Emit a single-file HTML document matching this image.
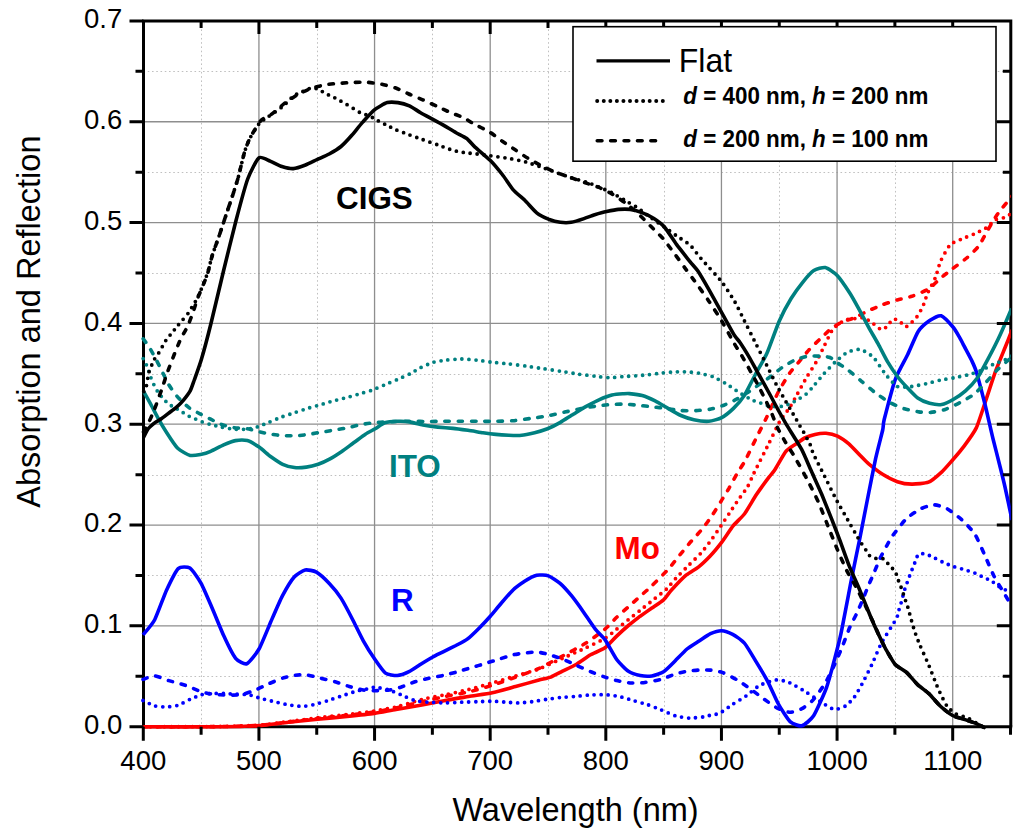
<!DOCTYPE html>
<html><head><meta charset="utf-8"><style>
html,body{margin:0;padding:0;background:#fff;width:1024px;height:837px;overflow:hidden}
svg{display:block}
text{font-family:"Liberation Sans",sans-serif}
.gm{stroke:#c0c0c0;stroke-width:1;stroke-dasharray:1.6 2.65}
.gM{stroke:#8e8e8e;stroke-width:1.3}
.tk{stroke:#000;stroke-width:3;fill:none}
.ax{stroke:#000;stroke-width:3;fill:none}
.tl{font-size:27.5px;fill:#000}
.at{font-size:32.5px;fill:#000}
.lab{font-size:31.4px;font-weight:bold}
.lf{font-size:32px;fill:#000}
.lg{font-size:22.4px;font-weight:bold;fill:#000}
</style></head><body>
<svg width="1024" height="837" viewBox="0 0 1024 837">
<defs><clipPath id="clip"><rect x="139.5" y="20.9" width="871.3" height="709.8000000000001"/></clipPath></defs>
<g>
<line x1="201.5" y1="20.9" x2="201.5" y2="726.7" class="gm"/>
<line x1="317.5" y1="20.9" x2="317.5" y2="726.7" class="gm"/>
<line x1="432.5" y1="20.9" x2="432.5" y2="726.7" class="gm"/>
<line x1="548.5" y1="20.9" x2="548.5" y2="726.7" class="gm"/>
<line x1="664.5" y1="20.9" x2="664.5" y2="726.7" class="gm"/>
<line x1="779.5" y1="20.9" x2="779.5" y2="726.7" class="gm"/>
<line x1="895.5" y1="20.9" x2="895.5" y2="726.7" class="gm"/>
<line x1="143.5" y1="676.5" x2="1010.8" y2="676.5" class="gm"/>
<line x1="143.5" y1="575.5" x2="1010.8" y2="575.5" class="gm"/>
<line x1="143.5" y1="475.5" x2="1010.8" y2="475.5" class="gm"/>
<line x1="143.5" y1="374.5" x2="1010.8" y2="374.5" class="gm"/>
<line x1="143.5" y1="273.5" x2="1010.8" y2="273.5" class="gm"/>
<line x1="143.5" y1="172.5" x2="1010.8" y2="172.5" class="gm"/>
<line x1="143.5" y1="71.5" x2="1010.8" y2="71.5" class="gm"/>
</g><g>
<line x1="258.93" y1="20.9" x2="258.93" y2="726.7" class="gM"/>
<line x1="374.56" y1="20.9" x2="374.56" y2="726.7" class="gM"/>
<line x1="490.19" y1="20.9" x2="490.19" y2="726.7" class="gM"/>
<line x1="605.82" y1="20.9" x2="605.82" y2="726.7" class="gM"/>
<line x1="721.44" y1="20.9" x2="721.44" y2="726.7" class="gM"/>
<line x1="837.07" y1="20.9" x2="837.07" y2="726.7" class="gM"/>
<line x1="952.70" y1="20.9" x2="952.70" y2="726.7" class="gM"/>
<line x1="143.5" y1="625.87" x2="1010.8" y2="625.87" class="gM"/>
<line x1="143.5" y1="525.04" x2="1010.8" y2="525.04" class="gM"/>
<line x1="143.5" y1="424.21" x2="1010.8" y2="424.21" class="gM"/>
<line x1="143.5" y1="323.38" x2="1010.8" y2="323.38" class="gM"/>
<line x1="143.5" y1="222.56" x2="1010.8" y2="222.56" class="gM"/>
<line x1="143.5" y1="121.73" x2="1010.8" y2="121.73" class="gM"/>
</g>
<text x="336" y="208.5" class="lab" fill="#000">CIGS</text>
<text x="389" y="477.3" class="lab" fill="#008080">ITO</text>
<text x="614.5" y="558.8" class="lab" fill="#ff0000">Mo</text>
<text x="391" y="610.5" class="lab" fill="#0000ff">R</text>
<path d="M143.5,726.7V20.9H1010.8V726.7" class="ax"/>
<line x1="142.1" y1="726.7" x2="1012.1999999999999" y2="726.7" class="ax"/>
<g clip-path="url(#clip)" fill="none" stroke-linejoin="round">
<path d="M143.5,726.8C151.2,726.8 208.4,726.7 220.0,726.6C231.6,726.5 252.2,725.9 259.0,725.4C265.8,724.9 282.5,722.7 288.4,722.0C294.3,721.3 311.8,719.2 317.7,718.5C323.6,717.8 341.3,715.9 347.0,715.3C352.7,714.6 369.2,712.8 374.3,712.0C379.4,711.2 393.6,708.4 398.4,707.4C403.2,706.4 417.2,702.8 421.9,701.7C426.6,700.6 440.6,697.5 445.3,696.5C450.0,695.5 464.0,693.0 468.7,691.9C473.4,690.8 487.5,686.8 492.2,685.3C496.9,683.8 510.9,678.8 515.6,677.1C520.3,675.4 534.3,670.5 539.0,668.4C543.7,666.3 557.8,658.5 562.5,656.0C567.2,653.5 581.6,645.8 585.9,643.1C590.1,640.4 601.9,631.7 605.0,629.1C608.1,626.5 614.4,619.5 616.7,617.3C619.0,615.1 626.0,608.9 628.4,606.8C630.8,604.7 637.9,598.3 640.2,596.2C642.6,594.1 649.1,588.4 651.9,585.7C654.7,583.0 665.8,572.0 668.6,568.9C671.4,565.8 677.8,557.4 680.1,554.6C682.4,551.8 689.2,543.6 691.5,541.0C693.8,538.4 700.9,530.7 703.0,528.1C705.1,525.5 710.5,517.9 712.3,515.2C714.1,512.5 719.2,504.2 720.9,501.5C722.5,498.8 727.1,491.5 728.8,488.6C730.4,485.7 735.8,475.7 737.4,472.9C739.0,470.1 743.2,464.3 745.0,461.0C746.8,457.7 753.1,444.3 755.3,439.9C757.5,435.5 764.5,421.8 766.8,417.0C769.1,412.2 775.9,396.6 778.2,392.2C780.5,387.8 787.6,376.2 789.7,373.1C791.8,370.0 797.3,363.9 799.2,361.6C801.1,359.3 806.7,352.4 808.8,350.1C810.9,347.8 818.0,340.9 820.3,338.7C822.6,336.5 829.4,329.9 831.7,328.2C834.0,326.5 840.9,322.5 843.2,321.5C845.5,320.5 851.8,318.9 854.3,317.8C856.8,316.7 865.8,311.9 868.7,310.6C871.6,309.3 880.1,305.7 883.0,304.6C885.9,303.5 894.5,300.7 897.4,299.9C900.3,299.1 908.6,297.4 911.7,296.3C914.8,295.2 925.6,290.9 928.5,289.1C931.4,287.3 938.0,280.3 940.4,278.3C942.8,276.3 949.8,270.8 952.4,268.8C955.0,266.8 964.1,260.3 966.7,258.0C969.3,255.7 976.6,249.0 978.7,246.1C980.9,243.2 986.3,232.5 988.2,229.3C990.1,226.1 995.4,217.1 997.8,213.8C1000.2,210.5 1010.6,197.8 1012.0,196.0" stroke="#ff0000" stroke-width="3.6" stroke-dasharray="4.4 8.9" stroke-linecap="round"/>
<path d="M143.5,726.8C151.2,726.8 208.4,726.7 220.0,726.5C231.6,726.3 252.2,725.7 259.0,725.2C265.8,724.7 282.5,722.3 288.4,721.6C294.3,720.9 311.8,718.5 317.7,717.8C323.6,717.1 341.3,715.2 347.0,714.5C352.7,713.8 369.2,711.8 374.3,711.0C379.4,710.2 393.6,707.6 398.4,706.4C403.2,705.2 417.2,700.6 421.9,699.4C426.6,698.2 440.6,695.7 445.3,694.7C450.0,693.7 464.0,690.7 468.7,689.5C473.4,688.3 487.5,684.4 492.2,683.0C496.9,681.6 510.9,677.3 515.6,675.9C520.3,674.5 534.3,670.7 539.0,668.9C543.7,667.1 557.8,660.4 562.5,658.3C567.2,656.2 581.6,649.8 585.9,647.8C590.1,645.8 601.9,640.3 605.0,638.4C608.1,636.5 614.4,631.0 616.7,629.1C619.0,627.2 626.0,621.6 628.4,619.7C630.8,617.8 637.9,612.2 640.2,610.3C642.6,608.4 649.3,603.0 651.9,600.9C654.5,598.8 664.0,591.4 666.5,589.0C669.0,586.6 674.9,579.2 677.2,576.8C679.5,574.4 687.0,567.0 689.4,564.6C691.8,562.2 699.4,554.9 701.6,552.4C703.8,549.9 709.7,542.1 711.6,539.5C713.5,536.9 719.1,528.5 720.9,525.9C722.7,523.2 727.8,515.6 729.5,513.0C731.2,510.4 736.3,502.7 738.1,500.1C739.9,497.5 745.9,489.6 747.5,486.9C749.1,484.2 751.8,477.5 753.9,473.2C756.0,468.9 766.1,449.0 768.7,443.8C771.3,438.6 778.0,424.4 780.1,420.8C782.2,417.2 788.0,410.2 789.7,407.5C791.4,404.8 795.6,397.2 797.3,394.1C799.0,391.0 805.0,380.1 806.9,376.9C808.8,373.6 814.7,364.7 816.4,361.6C818.1,358.5 822.6,349.4 824.1,346.3C825.6,343.2 830.2,333.3 831.7,331.0C833.2,328.7 837.9,324.5 839.4,323.4C840.9,322.3 845.7,320.0 847.0,319.6C848.3,319.2 850.3,319.2 852.0,319.0C853.7,318.8 861.8,317.3 863.9,317.8C866.0,318.3 871.7,322.6 873.5,323.8C875.3,325.0 880.2,329.6 881.6,329.8C883.0,330.0 886.4,326.9 887.5,325.8C888.6,324.7 891.8,319.7 892.9,319.2C894.0,318.7 897.7,319.8 899.0,320.6C900.3,321.4 904.3,326.7 905.6,326.8C906.9,326.9 910.9,323.1 912.1,322.0C913.4,320.9 917.2,316.6 918.1,315.3C919.0,314.0 920.8,310.3 921.4,309.0C922.0,307.7 924.0,303.7 924.6,302.2C925.2,300.7 926.2,296.4 927.3,293.9C928.4,291.4 934.3,280.3 935.6,277.1C936.9,273.9 939.0,264.8 940.4,261.6C941.8,258.4 947.9,247.2 950.0,244.9C952.1,242.6 959.5,240.0 961.9,238.9C964.3,237.8 971.5,235.2 973.9,234.1C976.3,233.0 983.6,229.5 985.8,228.1C987.9,226.7 993.5,220.9 995.4,219.8C997.3,218.7 1003.3,218.1 1005.0,217.4C1006.7,216.7 1011.3,213.4 1012.0,213.0" stroke="#ff0000" stroke-width="3.8" stroke-dasharray="0 7" stroke-linecap="round"/>
<path d="M143.5,726.8C151.2,726.8 208.4,726.9 220.0,726.8C231.6,726.7 252.2,726.1 259.0,725.6C265.8,725.1 282.5,722.9 288.4,722.3C294.3,721.7 311.8,719.8 317.7,719.2C323.6,718.6 341.3,717.1 347.0,716.5C352.7,715.9 369.4,714.1 374.3,713.4C379.2,712.7 391.2,710.3 396.0,709.5C400.8,708.7 417.0,705.9 421.9,705.0C426.8,704.1 440.6,701.4 445.3,700.5C450.0,699.6 464.0,697.3 468.7,696.5C473.4,695.7 487.5,693.8 492.2,692.8C496.9,691.8 510.9,687.8 515.6,686.5C520.3,685.2 535.5,681.0 539.0,680.1C542.5,679.2 548.4,678.0 550.8,677.1C553.1,676.2 559.9,672.5 562.5,671.2C565.1,669.9 573.7,665.8 576.5,664.2C579.3,662.6 587.8,656.4 590.6,654.8C593.5,653.2 602.4,649.7 605.0,647.8C607.6,645.9 614.4,638.3 616.7,636.1C619.0,633.9 626.0,627.5 628.4,625.5C630.8,623.5 637.9,618.0 640.2,616.2C642.6,614.5 649.6,609.6 651.9,608.0C654.2,606.4 661.6,601.6 663.6,599.8C665.6,598.0 669.3,592.4 671.5,590.0C673.7,587.6 683.1,577.7 685.8,575.4C688.5,573.1 696.3,568.7 698.7,566.8C701.1,564.9 707.9,558.4 710.2,556.0C712.5,553.6 719.3,545.4 721.6,542.4C723.9,539.4 730.8,528.8 733.1,525.9C735.4,523.0 742.3,516.8 744.6,513.7C746.9,510.6 753.7,498.8 756.1,495.1C758.5,491.5 767.1,479.7 769.0,477.2C770.9,474.7 773.0,472.6 774.7,470.0C776.4,467.4 783.8,454.0 785.9,451.4C788.0,448.8 794.0,445.3 795.9,444.0C797.8,442.7 802.9,438.9 804.8,438.0C806.7,437.1 812.9,435.0 815.0,434.5C817.1,434.0 823.8,433.1 826.0,433.3C828.2,433.5 835.2,435.1 837.5,436.1C839.8,437.2 846.6,441.9 848.9,443.8C851.1,445.7 858.0,453.2 860.0,455.2C862.0,457.2 866.4,461.9 868.7,463.8C871.0,465.7 880.1,472.7 883.0,474.5C885.9,476.3 894.5,480.7 897.4,481.7C900.3,482.7 908.6,484.1 911.7,484.1C914.8,484.2 925.5,483.4 928.5,482.2C931.5,481.0 939.2,474.3 941.6,472.1C944.0,469.9 950.1,462.8 952.4,460.2C954.7,457.6 961.9,449.0 964.3,445.8C966.7,442.6 974.1,432.4 976.3,427.9C978.4,423.4 983.9,406.0 985.8,400.4C987.7,394.8 993.5,377.0 995.4,371.7C997.3,366.4 1003.3,352.0 1005.0,347.8C1006.7,343.6 1011.3,331.8 1012.0,330.0" stroke="#ff0000" stroke-width="3.6"/>
<path d="M143.0,679.4C144.2,679.0 152.1,675.8 154.7,675.9C157.3,676.0 165.8,679.7 168.8,680.6C171.9,681.5 181.9,684.2 185.2,685.3C188.5,686.4 198.8,691.0 201.6,691.9C204.4,692.8 210.7,693.9 213.3,694.2C215.9,694.5 224.6,695.1 227.4,695.1C230.2,695.1 238.6,695.2 241.4,694.7C244.2,694.2 252.7,691.1 255.5,690.0C258.3,688.9 266.8,684.6 269.6,683.4C272.4,682.2 281.0,678.6 283.6,677.8C286.2,677.0 293.0,675.5 295.3,675.2C297.6,674.9 304.4,674.7 307.0,675.0C309.6,675.3 318.3,677.6 321.1,678.3C323.9,679.0 332.4,681.0 335.2,681.8C338.0,682.6 346.4,685.7 349.2,686.5C352.0,687.3 360.7,689.6 363.3,690.0C365.9,690.4 372.4,690.7 375.0,690.7C377.6,690.7 386.5,690.4 389.1,690.0C391.7,689.6 398.2,688.0 400.8,687.2C403.4,686.4 412.0,682.7 414.8,681.8C417.6,680.9 426.1,678.9 428.9,678.3C431.7,677.7 440.2,676.1 443.0,675.5C445.8,674.9 454.2,672.7 457.0,671.9C459.8,671.1 468.3,668.5 471.1,667.7C473.9,666.9 482.3,664.4 485.1,663.5C487.9,662.6 496.4,660.0 499.2,659.1C502.0,658.2 510.7,655.4 513.3,654.8C515.9,654.2 522.7,653.3 525.0,653.0C527.3,652.7 534.4,651.9 536.7,652.0C539.0,652.1 545.8,653.7 548.4,654.4C551.0,655.1 559.7,658.0 562.5,659.1C565.3,660.2 573.7,664.1 576.5,665.4C579.3,666.7 587.8,670.5 590.6,671.7C593.5,672.9 602.4,676.2 605.0,677.1C607.6,678.0 614.1,680.0 616.7,680.6C619.3,681.2 628.0,682.8 630.8,683.0C633.6,683.2 641.8,682.9 644.8,682.5C647.8,682.1 658.2,680.2 661.2,679.4C664.2,678.5 672.7,674.8 675.3,674.0C677.9,673.2 684.7,671.6 687.0,671.2C689.3,670.8 696.4,670.2 698.7,670.1C701.1,670.0 708.1,669.9 710.5,670.1C712.9,670.3 719.6,671.5 722.2,672.4C724.8,673.3 733.4,677.8 736.2,679.4C739.0,681.0 747.5,686.8 750.3,688.8C753.1,690.8 761.6,697.4 764.4,699.4C767.2,701.4 775.8,707.4 778.4,708.7C781.0,710.0 787.8,712.3 790.1,712.3C792.5,712.3 799.5,710.0 801.9,708.7C804.2,707.4 811.3,702.0 813.6,699.4C815.9,696.8 823.2,686.5 825.3,683.0C827.4,679.5 833.0,667.8 834.7,664.2C836.4,660.6 840.5,651.1 842.0,647.4C843.5,643.7 848.4,630.5 849.9,627.1C851.4,623.7 855.5,616.1 856.8,613.3C858.1,610.5 861.7,602.2 862.8,599.5C863.9,596.8 867.0,589.1 868.1,586.4C869.2,583.7 872.9,575.4 874.1,572.6C875.3,569.8 878.8,561.0 880.1,558.3C881.4,555.6 885.4,548.1 886.7,545.8C888.0,543.5 891.2,537.7 893.2,535.0C895.2,532.3 903.8,521.0 906.6,518.4C909.4,515.8 918.1,510.2 920.9,508.8C923.6,507.4 931.5,504.8 934.1,504.8C936.7,504.8 944.5,507.3 947.2,508.8C950.0,510.3 958.9,517.1 961.6,519.6C964.4,522.1 972.4,530.4 974.7,533.9C977.0,537.4 982.4,550.0 984.3,554.2C986.2,558.4 992.0,572.1 993.8,575.7C995.6,579.3 1000.5,587.3 1002.2,590.1C1003.9,592.9 1009.7,602.6 1010.5,604.0" stroke="#0000ff" stroke-width="3.6" stroke-dasharray="4.4 8.9" stroke-linecap="round"/>
<path d="M143.0,700.5C144.2,701.0 152.4,705.3 154.7,705.9C157.0,706.5 164.1,707.0 166.4,706.9C168.8,706.8 175.8,706.0 178.2,705.2C180.5,704.5 187.6,700.4 189.9,699.4C192.2,698.4 199.3,695.3 201.6,694.7C203.9,694.1 211.0,693.6 213.3,693.5C215.6,693.4 222.7,693.4 225.0,693.5C227.3,693.6 234.3,694.1 236.7,694.2C239.0,694.3 246.2,694.3 248.5,694.7C250.8,695.1 257.6,697.5 260.2,698.2C262.8,698.9 271.4,701.0 274.2,701.7C277.0,702.4 285.5,704.3 288.3,704.8C291.1,705.3 299.8,706.4 302.4,706.4C305.0,706.4 311.5,705.1 314.1,704.5C316.7,703.9 325.3,701.4 328.1,700.5C330.9,699.6 339.4,696.7 342.2,695.8C345.0,694.9 353.7,691.9 356.3,691.2C358.9,690.5 366.1,689.2 368.0,688.8C369.9,688.4 372.9,687.1 375.0,687.2C377.1,687.3 386.5,689.2 389.1,690.0C391.7,690.8 398.2,693.7 400.8,694.7C403.4,695.8 412.0,699.8 414.8,700.5C417.6,701.2 425.8,702.0 428.9,702.2C431.9,702.4 442.0,702.9 445.3,702.9C448.6,702.9 458.4,702.3 461.7,702.2C465.0,702.1 475.1,701.8 478.1,701.7C481.2,701.6 489.4,701.2 492.2,701.2C495.0,701.2 503.6,702.0 506.2,702.2C508.8,702.4 515.4,702.9 518.0,702.9C520.6,702.9 529.2,702.1 532.0,701.7C534.8,701.4 543.3,699.8 546.1,699.4C548.9,699.0 557.3,697.8 560.1,697.5C562.9,697.2 571.4,696.7 574.2,696.5C577.0,696.3 585.2,695.3 588.3,695.1C591.4,694.9 601.9,694.6 605.0,694.7C608.1,694.8 616.3,695.9 619.1,696.5C621.9,697.1 630.3,699.7 633.1,700.5C635.9,701.3 644.4,703.6 647.2,704.5C650.0,705.4 658.4,708.8 661.2,709.9C664.0,711.0 672.5,715.0 675.3,715.8C678.1,716.6 686.6,718.0 689.4,718.1C692.2,718.2 701.1,717.2 703.4,716.9C705.7,716.6 710.4,715.2 712.0,714.8C713.6,714.4 717.6,714.4 719.7,713.3C721.8,712.2 730.3,705.8 732.9,704.1C735.5,702.4 743.4,697.8 746.0,696.0C748.6,694.2 756.5,687.2 759.1,685.7C761.7,684.2 770.3,681.3 772.3,680.7C774.3,680.1 777.4,679.7 778.8,679.8C780.2,679.9 784.6,681.1 786.0,681.5C787.4,681.9 790.5,683.0 792.5,684.1C794.5,685.2 803.7,690.5 806.5,692.3C809.3,694.1 817.8,700.0 820.6,701.7C823.4,703.4 831.6,709.0 834.1,709.4C836.6,709.8 843.4,707.2 845.4,706.0C847.4,704.8 852.6,699.5 854.4,697.0C856.2,694.5 861.7,684.6 863.5,681.2C865.3,677.8 870.7,667.0 872.5,663.2C874.3,659.4 879.1,647.3 881.5,642.9C883.9,638.5 894.5,622.0 896.2,619.0C897.9,616.0 897.8,613.7 898.2,612.4C898.6,611.1 899.8,607.1 900.2,605.8C900.6,604.5 901.9,600.5 902.2,599.2C902.6,597.9 903.3,593.9 903.7,592.6C904.1,591.3 905.3,587.7 905.8,586.4C906.2,585.1 907.7,581.1 908.2,579.8C908.7,578.5 910.1,574.5 910.6,573.2C911.1,571.9 912.7,568.0 913.2,566.7C913.7,565.4 915.4,561.4 915.9,560.1C916.4,558.8 917.6,554.6 918.4,554.0C919.2,553.4 922.8,553.6 924.0,553.8C925.2,554.0 928.8,555.2 930.6,556.0C932.5,556.8 940.3,561.0 942.5,562.0C944.7,563.0 950.6,565.5 952.8,566.3C955.0,567.1 962.6,569.0 964.8,569.7C967.0,570.4 973.1,572.3 975.0,573.1C976.9,573.9 982.0,576.6 983.6,577.4C985.2,578.2 989.8,579.9 991.3,580.8C992.8,581.7 996.8,585.1 998.1,586.0C999.4,586.9 1002.7,588.9 1004.0,589.4C1005.3,589.9 1010.2,590.9 1010.9,591.1" stroke="#0000ff" stroke-width="3.8" stroke-dasharray="0 7" stroke-linecap="round"/>
<path d="M143.0,634.9C144.2,633.4 152.4,624.2 154.7,619.7C157.0,615.2 164.1,595.5 166.4,590.4C168.8,585.3 175.8,570.8 178.2,568.6C180.5,566.4 187.6,566.6 189.9,568.1C192.2,569.6 198.9,579.4 201.1,583.4C203.3,587.4 209.8,602.7 212.1,608.0C214.4,613.3 221.6,631.1 223.9,636.1C226.2,641.1 233.3,655.5 235.6,658.3C237.9,661.1 244.5,664.6 246.8,663.7C249.1,662.8 256.6,653.2 259.0,649.0C261.4,644.8 268.4,627.3 270.7,622.0C273.0,616.7 280.0,600.3 282.4,595.8C284.8,591.3 291.9,579.6 294.2,577.0C296.5,574.4 303.0,570.5 305.2,570.0C307.4,569.5 314.0,570.8 316.4,572.1C318.8,573.4 326.8,580.8 329.3,583.4C331.8,586.0 338.7,594.5 341.0,598.1C343.3,601.7 350.5,615.4 352.7,619.7C354.9,624.0 361.1,636.8 363.3,640.8C365.5,644.8 372.8,656.3 375.0,659.5C377.2,662.7 383.3,671.5 385.5,673.1C387.7,674.7 394.9,675.6 397.3,675.5C399.7,675.4 406.7,672.8 409.0,671.7C411.3,670.6 418.4,665.7 420.7,664.2C423.0,662.8 430.1,658.5 432.4,657.2C434.7,655.9 441.8,652.5 444.1,651.3C446.5,650.1 453.5,646.7 455.9,645.5C458.2,644.3 465.3,640.7 467.6,638.9C469.9,637.1 477.0,630.2 479.3,627.9C481.6,625.6 488.1,618.7 490.3,616.2C492.5,613.7 499.3,605.4 501.6,602.8C503.9,600.1 511.0,591.9 513.3,589.7C515.6,587.5 522.7,582.5 525.0,581.0C527.3,579.5 534.4,575.7 536.7,575.2C539.0,574.7 546.1,575.1 548.4,575.9C550.7,576.7 557.8,581.4 560.1,583.4C562.5,585.4 569.5,593.3 571.9,596.2C574.2,599.1 581.3,608.9 583.6,612.2C585.9,615.5 593.2,626.4 595.3,629.1C597.4,631.8 602.9,636.6 605.0,639.6C607.1,642.6 614.4,656.3 616.7,659.5C619.0,662.7 626.0,669.6 628.4,671.2C630.8,672.8 637.9,675.0 640.2,675.5C642.6,676.0 649.6,676.3 651.9,675.9C654.2,675.5 661.3,673.2 663.6,671.7C665.9,670.2 673.0,663.0 675.3,660.7C677.6,658.4 684.7,651.0 687.0,649.0C689.3,647.0 696.4,642.7 698.7,641.2C701.1,639.7 708.2,634.8 710.5,633.7C712.8,632.7 719.3,630.6 721.5,630.7C723.7,630.8 730.4,633.2 732.7,634.4C735.0,635.6 742.0,640.4 744.4,643.1C746.8,645.9 753.9,658.0 756.2,661.9C758.6,665.8 765.7,677.6 767.9,681.8C770.1,686.0 776.2,700.0 778.4,704.0C780.6,708.0 787.8,719.4 790.1,721.6C792.5,723.8 799.5,726.4 801.9,725.8C804.2,725.2 811.1,719.6 813.6,715.8C816.1,712.0 824.5,693.1 826.5,687.6C828.5,682.1 832.7,666.3 834.1,660.9C835.5,655.5 839.1,642.1 840.9,633.8C842.7,625.5 849.8,587.7 851.7,578.1C853.6,568.5 858.3,545.9 860.0,537.5C861.7,529.1 866.8,502.4 868.4,494.5C870.0,486.6 874.2,465.1 875.6,458.7C877.0,452.2 881.8,433.9 882.7,430.0C883.6,426.1 882.9,424.6 884.2,419.5C885.5,414.4 892.9,385.8 895.3,379.3C897.6,372.8 905.4,359.3 907.7,354.5C910.0,349.7 916.0,334.9 918.2,331.5C920.4,328.1 927.4,322.2 929.7,320.6C932.0,319.0 938.8,315.1 941.2,315.8C943.6,316.5 951.7,325.5 953.6,327.7C955.5,329.9 959.0,336.6 960.0,338.2C961.0,339.8 962.0,341.9 963.1,344.1C964.2,346.3 970.2,357.3 971.5,360.1C972.8,362.9 975.0,367.4 976.3,371.7C977.6,376.0 982.9,396.1 984.6,402.8C986.3,409.5 991.4,432.2 993.0,438.7C994.6,445.1 999.0,462.5 1000.2,467.3C1001.4,472.1 1003.8,481.7 1005.0,487.0C1006.2,492.3 1011.3,516.7 1012.0,520.0" stroke="#0000ff" stroke-width="3.6"/>
<path d="M143.2,338.8C143.8,339.6 147.8,345.0 149.0,346.9C150.2,348.8 153.9,355.4 155.2,357.7C156.4,360.0 160.2,367.5 161.5,370.2C162.8,372.9 167.1,381.9 168.7,384.6C170.3,387.3 175.6,394.8 177.7,397.1C179.8,399.4 187.1,406.2 189.3,407.9C191.5,409.6 197.9,412.7 200.0,413.8C202.1,414.9 208.5,418.1 210.7,419.2C212.8,420.3 219.1,423.6 221.5,424.5C223.9,425.4 231.8,427.3 234.4,427.7C237.0,428.1 244.7,428.4 247.3,428.8C249.9,429.2 257.8,431.5 260.2,432.0C262.6,432.5 268.5,433.8 270.9,434.2C273.3,434.6 281.2,435.6 283.8,435.7C286.4,435.8 294.1,435.8 296.7,435.7C299.3,435.6 307.0,434.6 309.6,434.2C312.2,433.8 319.8,432.4 322.4,432.0C325.0,431.6 332.7,430.3 335.3,429.9C337.9,429.5 345.6,428.2 348.2,427.7C350.8,427.2 358.5,425.0 361.1,424.5C363.7,424.0 371.4,423.1 374.0,422.8C376.6,422.5 384.3,422.0 386.9,421.9C389.5,421.8 397.2,421.4 399.8,421.3C402.4,421.2 410.0,421.3 412.7,421.3C415.4,421.3 424.0,421.5 427.2,421.5C430.4,421.5 441.0,421.3 444.4,421.3C447.8,421.3 458.2,421.3 461.6,421.3C465.0,421.3 475.3,421.3 478.7,421.3C482.1,421.3 492.5,421.4 495.9,421.3C499.3,421.2 509.7,421.0 513.1,420.7C516.5,420.4 526.9,419.0 530.3,418.5C533.7,418.0 544.1,416.5 547.5,415.9C550.9,415.3 561.3,412.9 564.7,412.1C568.1,411.4 578.9,409.0 581.9,408.4C584.9,407.8 592.1,406.7 594.7,406.3C597.3,405.9 604.8,405.0 607.6,404.8C610.4,404.6 619.9,404.1 622.9,404.1C625.9,404.1 634.9,404.9 637.9,405.2C640.9,405.5 650.2,406.6 653.0,406.9C655.8,407.2 663.1,408.0 665.9,408.4C668.7,408.8 677.9,410.4 680.9,410.6C683.9,410.8 692.9,410.8 695.9,410.6C698.9,410.5 708.2,409.6 711.0,409.1C713.8,408.6 721.3,406.2 723.9,405.2C726.5,404.2 734.1,400.6 736.7,399.2C739.3,397.8 747.2,392.8 749.6,391.2C752.0,389.6 758.2,385.2 760.4,383.7C762.5,382.2 769.0,377.8 771.1,376.2C773.2,374.6 779.5,369.2 781.9,367.6C784.3,366.0 792.1,361.2 794.7,360.1C797.3,359.0 805.0,356.6 807.6,356.2C810.2,355.8 818.3,356.1 820.5,356.2C822.7,356.3 828.3,356.8 830.0,357.5C831.7,358.2 836.0,361.9 837.7,363.1C839.4,364.3 844.8,367.5 847.2,369.3C849.6,371.1 858.6,378.9 861.5,381.3C864.4,383.7 873.0,391.1 875.9,393.2C878.8,395.3 887.3,401.2 890.2,402.8C893.1,404.4 901.6,407.9 904.5,408.8C907.4,409.7 916.3,411.5 918.9,411.9C921.5,412.3 928.2,412.6 930.8,412.4C933.4,412.2 942.3,410.5 945.2,409.5C948.1,408.5 956.6,404.3 959.5,402.8C962.4,401.3 971.3,396.4 973.9,394.4C976.5,392.4 983.4,385.0 985.8,382.5C988.2,380.0 995.2,371.8 997.8,369.3C1000.4,366.8 1010.2,358.6 1011.6,357.4" stroke="#008080" stroke-width="3.6" stroke-dasharray="4.4 8.9" stroke-linecap="round"/>
<path d="M143.2,358.6C143.6,359.4 146.4,364.7 147.2,366.6C148.0,368.5 150.1,375.5 150.8,377.4C151.5,379.3 153.5,383.9 154.2,385.4C154.9,386.9 157.1,390.8 158.0,392.1C158.9,393.4 162.3,397.6 163.4,398.8C164.5,400.0 167.6,403.3 168.8,404.2C170.0,405.1 174.2,407.2 175.5,408.0C176.8,408.8 180.5,411.0 181.8,411.8C183.1,412.6 187.2,415.3 188.5,416.0C189.8,416.7 193.9,418.3 195.2,418.9C196.5,419.5 200.6,421.3 201.9,421.8C203.2,422.3 207.7,423.6 208.6,423.9C209.5,424.2 209.4,424.2 210.7,424.5C212.0,424.8 219.1,426.6 221.5,427.1C223.9,427.6 231.8,429.0 234.4,429.2C237.0,429.4 244.9,429.4 247.3,429.2C249.7,428.9 255.9,427.4 258.0,426.7C260.1,426.0 266.3,423.4 268.7,422.4C271.1,421.4 279.0,418.0 281.6,417.0C284.2,416.0 291.9,413.6 294.5,412.7C297.1,411.8 304.8,409.2 307.4,408.4C310.0,407.6 317.7,405.6 320.3,404.8C322.9,404.1 330.6,401.6 333.2,400.9C335.8,400.2 343.5,398.4 346.1,397.7C348.7,397.0 356.4,394.8 359.0,394.0C361.6,393.2 369.3,391.1 371.9,390.2C374.5,389.3 382.1,385.9 384.7,384.8C387.3,383.7 395.0,380.5 397.6,379.4C400.2,378.3 408.2,374.8 410.5,373.6C412.8,372.4 418.4,368.7 420.7,367.6C423.0,366.5 431.0,362.9 433.6,362.2C436.2,361.4 443.7,360.4 446.5,360.1C449.3,359.8 458.6,359.0 461.6,359.0C464.6,359.0 473.6,359.8 476.6,360.1C479.6,360.4 488.4,361.8 491.6,362.2C494.8,362.6 505.4,363.5 508.8,363.9C512.2,364.3 522.6,365.6 526.0,366.1C529.4,366.6 539.8,368.2 543.2,368.7C546.6,369.2 557.0,370.7 560.4,371.2C563.8,371.7 574.2,373.5 577.6,374.0C581.0,374.5 591.5,375.8 594.7,376.2C597.9,376.6 607.2,377.7 610.0,377.7C612.8,377.7 620.3,376.8 622.9,376.6C625.5,376.4 633.2,376.0 635.8,375.8C638.4,375.6 646.1,375.0 648.7,374.7C651.3,374.4 659.0,373.3 661.6,373.0C664.2,372.7 671.8,372.0 674.4,371.9C677.0,371.8 684.7,371.8 687.3,371.9C689.9,372.0 697.6,372.9 700.2,373.4C702.8,373.9 710.5,375.8 713.1,376.8C715.7,377.8 723.4,382.1 726.0,383.7C728.6,385.2 736.3,390.7 738.9,392.3C741.5,393.9 749.7,398.8 751.8,399.8C753.9,400.9 758.6,402.3 760.0,402.8C761.4,403.3 764.3,404.9 765.4,405.2C766.5,405.5 769.5,405.6 770.8,405.8C772.0,406.0 776.5,407.0 777.9,407.0C779.3,407.0 783.4,405.9 784.8,405.5C786.2,405.1 790.4,403.7 791.7,403.1C793.0,402.5 796.7,399.9 798.0,399.2C799.3,398.4 803.1,396.7 804.5,395.6C805.9,394.5 810.1,390.1 811.9,388.0C813.7,385.9 820.4,377.7 822.7,375.1C825.0,372.5 832.8,364.2 835.3,361.9C837.8,359.6 844.8,353.6 847.3,352.3C849.8,351.1 857.8,348.9 860.4,349.4C863.0,349.9 871.0,354.9 873.5,357.4C876.0,359.9 883.0,371.2 885.4,374.1C887.8,377.0 894.8,385.3 897.4,386.5C900.0,387.7 908.8,386.8 911.7,386.5C914.6,386.2 923.2,384.3 926.1,383.7C929.0,383.1 937.5,380.7 940.4,380.1C943.3,379.5 951.8,378.2 954.7,377.7C957.6,377.1 966.5,375.3 969.1,374.6C971.7,373.9 978.6,371.5 981.0,370.5C983.4,369.5 990.6,365.6 993.0,364.5C995.4,363.4 1003.1,360.6 1005.0,359.8C1006.9,359.0 1010.9,356.6 1011.6,356.2" stroke="#008080" stroke-width="3.8" stroke-dasharray="0 7" stroke-linecap="round"/>
<path d="M143.2,390.9C144.0,392.2 149.3,401.6 150.8,404.3C152.3,407.0 156.3,414.9 157.9,417.8C159.5,420.7 164.9,429.9 166.9,433.0C168.9,436.1 175.4,446.1 177.7,448.3C180.0,450.5 187.9,454.8 190.2,455.4C192.5,456.0 198.4,454.9 200.5,454.5C202.6,454.1 208.4,452.4 210.7,451.4C213.0,450.4 221.1,446.0 223.6,444.9C226.1,443.8 233.0,441.0 235.4,440.6C237.8,440.2 244.9,440.0 247.3,440.6C249.7,441.2 256.7,445.5 259.1,447.1C261.5,448.7 268.5,455.0 270.9,456.7C273.3,458.4 280.3,463.2 282.7,464.3C285.1,465.4 292.1,467.2 294.5,467.5C296.9,467.8 303.9,467.4 306.3,467.1C308.7,466.8 315.8,465.1 318.2,464.3C320.6,463.5 327.6,460.2 330.0,458.9C332.4,457.6 339.4,453.0 341.8,451.4C344.2,449.8 351.2,444.5 353.6,442.8C356.0,441.1 363.2,435.6 365.4,434.2C367.5,432.8 373.2,429.9 375.1,428.8C377.0,427.7 382.4,423.6 384.7,422.8C386.9,422.1 395.1,421.4 397.6,421.3C400.1,421.2 407.0,421.5 409.5,421.9C412.0,422.3 420.1,424.5 422.9,425.0C425.7,425.5 434.9,426.8 437.9,427.1C440.9,427.4 450.0,428.1 453.0,428.4C456.0,428.7 465.0,429.9 468.0,430.3C471.0,430.7 480.2,432.3 483.0,432.7C485.8,433.1 493.3,434.1 495.9,434.4C498.5,434.7 506.2,435.2 508.8,435.3C511.4,435.4 519.1,435.6 521.7,435.3C524.3,435.0 532.0,433.3 534.6,432.7C537.2,432.1 544.9,429.8 547.5,428.8C550.1,427.8 557.8,423.9 560.4,422.4C563.0,420.9 570.7,415.8 573.3,414.2C575.9,412.6 583.6,407.7 586.2,406.3C588.8,404.9 596.4,400.9 599.0,399.8C601.6,398.7 609.5,395.7 611.9,395.1C614.3,394.5 621.0,393.9 622.7,393.8C624.4,393.7 627.3,393.4 629.3,393.6C631.2,393.8 639.6,394.8 642.2,395.5C644.8,396.2 652.5,399.6 655.1,400.9C657.7,402.2 665.4,406.9 668.0,408.4C670.6,409.9 678.3,414.4 680.9,415.5C683.5,416.6 691.0,419.2 693.8,419.8C696.6,420.4 706.0,421.5 708.8,421.3C711.6,421.1 719.2,418.9 721.7,417.6C724.2,416.3 731.2,410.6 733.5,408.4C735.8,406.2 742.0,399.0 744.3,395.5C746.6,392.0 753.9,377.2 756.1,373.0C758.4,368.8 764.5,358.8 766.8,353.6C769.1,348.4 776.8,326.7 779.2,321.2C781.6,315.7 788.7,302.4 791.1,298.5C793.5,294.6 800.8,284.6 803.1,281.8C805.4,279.0 811.6,272.0 813.8,270.6C816.0,269.2 823.0,267.0 825.3,267.5C827.6,268.0 834.8,272.9 837.2,275.4C839.6,277.9 847.4,289.3 849.6,292.7C851.8,296.1 857.2,305.9 859.1,309.4C861.0,312.9 866.8,323.8 868.7,327.3C870.6,330.8 876.4,340.7 878.3,344.2C880.2,347.7 885.9,359.0 887.8,362.2C889.7,365.4 895.5,374.0 897.4,376.5C899.3,379.0 904.9,385.2 906.9,387.3C908.9,389.4 915.4,396.4 917.7,398.0C920.0,399.6 927.2,402.7 929.6,403.3C932.0,403.9 939.2,404.9 941.6,404.5C944.0,404.1 951.2,400.6 953.6,399.2C956.0,397.8 963.1,392.9 965.5,390.8C967.9,388.7 975.2,380.9 977.5,377.7C979.8,374.5 985.9,362.9 988.2,358.6C990.5,354.3 997.9,339.7 1000.2,334.7C1002.5,329.7 1010.5,311.0 1011.6,308.4" stroke="#008080" stroke-width="3.6"/>
<path d="M143.5,432.0C143.9,431.4 146.1,428.0 147.2,425.8C148.3,423.6 152.9,413.3 154.3,409.7C155.7,406.1 160.2,393.6 161.5,390.0C162.8,386.4 165.6,377.5 166.9,373.8C168.2,370.1 173.5,356.3 174.9,352.8C176.3,349.3 179.5,341.5 180.8,338.8C182.1,336.1 186.6,328.6 187.8,325.9C189.0,323.2 192.2,314.6 193.2,311.9C194.2,309.2 196.5,301.2 197.5,298.5C198.5,295.8 202.4,287.0 203.4,284.5C204.4,282.0 206.8,276.1 207.7,273.2C208.6,270.3 211.1,259.3 212.3,255.4C213.5,251.5 218.4,238.0 219.8,233.9C221.2,229.8 224.9,218.4 226.2,214.5C227.5,210.6 231.5,198.9 232.7,195.2C233.9,191.5 236.9,182.2 238.1,177.9C239.3,173.6 243.3,156.2 244.5,152.2C245.7,148.2 248.3,141.2 250.0,138.0C251.7,134.8 258.8,122.9 261.0,120.5C263.2,118.1 269.6,115.7 272.0,113.9C274.4,112.1 282.5,104.9 285.1,102.9C287.7,100.9 295.7,95.7 298.3,94.2C300.9,92.7 308.7,89.3 311.5,88.3C314.3,87.3 323.3,85.1 326.1,84.6C328.9,84.1 336.5,83.5 339.3,83.3C342.1,83.1 351.2,82.5 354.0,82.4C356.8,82.3 364.3,82.0 367.1,82.2C369.9,82.4 378.9,83.7 381.8,84.3C384.7,84.9 393.7,87.3 396.4,88.3C399.1,89.3 406.2,92.8 408.8,94.0C411.4,95.2 419.9,98.6 422.7,99.8C425.5,101.0 433.9,104.9 436.7,106.2C439.5,107.5 448.0,111.6 450.7,112.7C453.4,113.8 461.5,116.6 463.6,117.6C465.8,118.6 469.5,121.4 472.2,122.9C474.9,124.4 487.4,130.8 490.4,132.6C493.4,134.4 499.8,139.5 502.3,141.2C504.8,142.9 512.6,148.1 515.2,149.8C517.8,151.5 525.5,156.8 528.1,158.4C530.7,160.0 538.2,164.1 541.0,165.5C543.8,166.9 553.0,171.2 556.0,172.4C559.0,173.6 568.1,176.6 571.1,177.7C574.1,178.8 583.3,182.1 586.1,183.1C588.9,184.1 596.4,186.3 599.0,187.4C601.6,188.5 609.3,192.4 611.9,193.9C614.5,195.4 622.2,200.6 624.8,202.5C627.4,204.4 635.1,210.8 637.7,213.2C640.3,215.6 648.1,223.6 650.6,226.1C653.1,228.6 660.2,235.4 662.5,238.0C664.8,240.6 671.0,248.9 673.2,251.9C675.5,254.9 682.9,265.2 685.0,268.1C687.1,271.0 691.9,277.3 694.3,280.6C696.7,283.9 706.0,296.8 708.7,300.9C711.5,305.0 719.3,317.0 721.8,321.2C724.3,325.4 731.8,339.2 733.8,342.7C735.8,346.2 740.1,352.9 741.9,355.9C743.7,358.9 749.8,370.1 751.5,373.1C753.2,376.1 757.1,383.3 758.5,386.0C759.9,388.7 764.0,397.0 765.4,399.8C766.8,402.6 770.8,411.2 772.0,414.1C773.2,417.0 776.6,425.8 777.9,428.5C779.2,431.2 783.5,438.8 785.1,441.6C786.7,444.4 792.2,452.7 794.3,456.3C796.4,459.9 803.9,473.3 806.3,477.8C808.7,482.3 816.1,496.9 818.2,501.7C820.4,506.5 825.9,520.8 827.8,525.6C829.7,530.4 835.4,544.9 837.3,549.4C839.2,553.9 845.0,567.1 846.9,570.9C848.8,574.7 854.6,584.4 856.4,587.7C858.2,591.1 863.0,600.7 864.8,604.4C866.6,608.1 872.9,621.5 874.4,624.7C875.9,627.9 878.1,633.6 879.3,636.1C880.5,638.6 884.4,646.8 886.0,649.6C887.6,652.4 893.0,662.0 895.0,664.3C897.0,666.6 904.0,670.2 906.3,672.2C908.6,674.2 915.3,682.5 917.6,684.6C919.9,686.7 926.6,691.5 928.9,693.6C931.2,695.7 937.8,703.8 940.2,706.0C942.6,708.2 950.1,714.1 952.6,715.5C955.1,716.9 962.6,718.8 965.0,719.6C967.4,720.4 974.4,722.8 976.3,723.6C978.2,724.4 983.4,727.1 984.2,727.5" stroke="#000000" stroke-width="3.6" stroke-dasharray="4.4 8.9" stroke-linecap="round"/>
<path d="M143.8,391.7C144.1,391.2 145.8,388.4 146.3,386.4C146.8,384.4 148.2,374.7 149.0,372.0C149.8,369.3 153.3,361.4 154.3,359.5C155.3,357.6 158.0,354.1 158.8,352.8C159.6,351.5 161.8,347.6 162.5,346.3C163.2,345.0 165.4,341.0 166.3,339.7C167.2,338.4 170.6,334.5 171.7,333.2C172.8,331.9 175.9,327.8 177.0,326.5C178.1,325.2 181.6,321.1 182.7,319.8C183.8,318.5 187.2,314.6 188.1,313.3C189.0,312.0 191.3,308.2 192.1,306.9C192.9,305.6 195.2,301.9 195.9,300.6C196.6,299.3 198.5,295.6 199.1,294.2C199.7,292.8 201.8,288.0 202.3,286.7C202.8,285.4 204.0,282.2 204.5,280.8C205.0,279.4 206.9,275.2 207.7,272.7C208.5,270.2 211.1,259.3 212.3,255.4C213.5,251.5 218.4,238.0 219.8,233.9C221.2,229.8 224.9,218.4 226.2,214.5C227.5,210.6 231.5,198.9 232.7,195.2C233.9,191.5 236.9,182.2 238.1,177.9C239.3,173.6 243.3,156.2 244.5,152.2C245.7,148.2 248.5,140.9 250.0,138.0C251.5,135.1 257.5,125.5 259.3,123.4C261.1,121.3 265.5,118.7 267.9,117.0C270.3,115.3 280.4,108.3 283.0,106.2C285.6,104.1 292.1,96.9 293.9,95.6C295.6,94.3 299.2,93.4 300.5,92.8C301.8,92.2 305.6,89.7 307.0,89.2C308.4,88.7 312.7,87.8 314.0,87.9C315.3,88.0 319.0,89.9 320.3,90.5C321.6,91.1 325.6,93.5 326.9,94.2C328.2,94.9 332.2,96.4 333.5,97.1C334.8,97.8 338.7,100.0 340.0,100.7C341.3,101.4 345.3,103.6 346.6,104.4C347.9,105.2 351.9,107.6 353.2,108.4C354.5,109.2 358.5,111.8 359.8,112.5C361.1,113.2 365.1,114.4 366.4,114.9C367.7,115.4 371.8,117.2 373.0,117.8C374.2,118.4 377.5,120.5 378.8,121.2C380.1,121.9 384.4,124.0 386.2,124.9C388.0,125.8 394.2,129.1 396.4,130.0C398.5,130.9 405.1,133.2 407.7,134.2C410.3,135.2 419.7,138.5 422.7,139.6C425.7,140.7 434.8,143.8 437.8,144.9C440.8,146.0 450.0,149.5 452.8,150.3C455.6,151.1 463.8,152.6 465.8,152.9C467.9,153.2 470.8,153.2 473.3,153.5C475.8,153.8 486.9,155.3 490.4,155.8C493.9,156.3 505.1,157.8 508.7,158.4C512.2,159.0 522.7,161.1 525.9,162.0C529.1,162.9 538.0,166.0 541.0,167.0C544.0,168.0 553.0,171.3 556.0,172.4C559.0,173.5 568.1,176.7 571.1,177.7C574.1,178.7 583.3,181.1 586.1,182.0C588.9,182.9 596.4,185.9 599.0,187.0C601.6,188.1 609.3,191.5 611.9,192.8C614.5,194.1 622.2,198.8 624.8,200.3C627.4,201.8 635.1,206.1 637.7,207.8C640.3,209.5 647.9,215.6 650.6,217.5C653.3,219.4 662.0,225.4 664.6,227.2C667.2,229.0 674.0,234.0 676.5,235.8C679.0,237.6 687.5,242.7 690.0,245.0C692.5,247.3 698.3,255.4 701.5,259.1C704.7,262.8 718.4,277.5 721.8,281.8C725.1,286.1 732.8,298.3 735.0,302.1C737.2,305.9 741.8,315.6 743.8,319.6C745.8,323.6 753.0,337.9 755.3,342.5C757.6,347.1 764.7,361.2 766.8,365.4C768.9,369.6 774.5,381.1 776.3,384.5C778.1,387.9 782.9,396.4 784.5,399.2C786.1,402.0 791.1,410.6 792.3,412.6C793.5,414.6 795.5,417.9 796.2,419.2C796.9,420.5 799.0,424.2 799.7,425.5C800.4,426.8 802.6,430.2 803.6,432.1C804.6,434.0 809.2,442.4 810.2,444.6C811.2,446.8 812.0,450.8 813.4,453.9C814.8,457.0 821.9,470.9 824.2,475.4C826.5,479.9 833.5,494.4 836.1,499.3C838.7,504.2 848.2,520.6 850.3,524.4C852.4,528.1 856.3,534.9 857.4,536.8C858.5,538.7 860.7,542.3 861.6,543.6C862.5,544.9 865.1,548.9 866.0,550.2C866.9,551.5 869.5,555.9 870.5,556.7C871.5,557.5 875.2,558.3 876.5,558.5C877.8,558.7 882.1,558.2 883.4,558.9C884.7,559.6 888.4,564.2 889.6,565.5C890.8,566.8 894.6,570.5 895.4,571.8C896.2,573.1 897.0,576.9 897.5,578.2C898.0,579.5 899.7,583.7 900.2,585.0C900.7,586.3 902.2,590.1 902.6,591.4C903.0,592.7 904.2,596.7 904.6,598.0C905.0,599.3 906.6,603.2 907.0,604.5C907.4,605.8 908.6,609.8 909.0,611.1C909.4,612.4 910.2,616.4 910.6,617.7C911.0,619.0 912.2,622.9 912.6,624.2C913.0,625.5 913.7,628.5 914.4,630.6C915.1,632.7 918.4,641.6 919.9,645.1C921.4,648.6 927.1,661.1 928.9,665.4C930.7,669.7 936.1,683.9 937.9,688.0C939.7,692.1 945.1,703.4 946.9,706.0C948.7,708.6 954.0,712.7 956.0,713.9C958.0,715.1 965.2,716.9 967.2,717.8C969.2,718.7 974.6,721.9 976.3,722.9C978.0,723.9 983.4,727.0 984.2,727.5" stroke="#000000" stroke-width="3.8" stroke-dasharray="0 7" stroke-linecap="round"/>
<path d="M143.5,437.5C144.0,436.6 147.2,430.0 148.4,428.5C149.6,427.0 153.7,423.6 155.0,422.6C156.3,421.6 160.4,419.4 161.7,418.5C163.0,417.6 167.0,414.5 168.4,413.4C169.8,412.3 174.5,408.9 176.0,407.6C177.5,406.3 182.1,401.8 183.5,400.1C184.9,398.4 189.1,392.9 190.2,390.9C191.3,388.9 193.2,383.1 194.3,380.0C195.4,376.9 199.5,365.6 201.2,360.0C202.9,354.4 208.7,332.7 210.9,323.8C213.1,314.9 221.0,281.3 223.5,271.0C226.0,260.7 233.5,230.2 235.9,221.0C238.3,211.8 245.4,185.3 247.7,179.0C250.0,172.7 256.7,159.6 258.9,157.8C261.1,156.0 267.8,160.2 270.1,161.1C272.4,162.0 279.6,165.8 281.9,166.5C284.2,167.2 290.9,168.8 293.3,168.6C295.7,168.4 303.1,165.9 305.5,165.0C307.9,164.1 315.0,160.5 317.4,159.4C319.8,158.3 326.8,155.3 329.2,154.0C331.6,152.7 338.7,148.4 341.0,146.5C343.3,144.6 349.7,137.7 351.8,135.3C353.9,132.9 360.2,124.9 362.5,122.4C364.8,119.9 371.9,111.9 374.4,109.9C376.9,107.9 384.9,103.3 387.3,102.6C389.7,101.9 395.8,102.3 398.0,102.6C400.2,102.9 407.1,104.8 409.4,105.8C411.7,106.8 418.3,111.4 420.6,112.7C422.9,114.0 430.0,117.8 432.4,119.1C434.8,120.4 441.8,124.2 444.2,125.6C446.6,127.0 453.8,131.4 456.1,132.7C458.4,134.0 464.9,137.1 466.8,138.5C468.7,139.9 472.6,144.9 475.0,147.1C477.4,149.3 487.7,157.8 490.4,160.5C493.1,163.2 500.0,171.6 502.3,174.5C504.6,177.4 510.8,187.0 513.0,189.6C515.2,192.2 522.4,198.0 524.8,200.3C527.2,202.6 534.3,210.9 536.7,212.8C539.1,214.7 546.1,218.2 548.5,219.2C550.9,220.1 558.0,222.0 560.3,222.3C562.6,222.6 568.7,222.7 571.1,222.3C573.5,221.9 581.6,219.4 584.0,218.6C586.4,217.8 592.4,215.4 594.7,214.7C597.0,214.0 604.2,212.0 606.6,211.5C609.0,211.0 616.0,209.6 618.4,209.4C620.8,209.2 627.8,209.1 630.2,209.4C632.6,209.7 639.6,211.7 642.0,212.6C644.4,213.5 651.6,217.1 653.9,218.6C656.2,220.1 662.3,224.6 664.6,227.2C666.9,229.8 674.0,241.0 676.5,244.4C679.0,247.8 687.9,258.9 690.0,261.6C692.1,264.3 695.9,268.1 697.9,271.1C699.9,274.1 707.5,287.2 709.9,291.4C712.3,295.6 719.4,308.6 721.8,312.9C724.2,317.2 732.0,331.4 733.8,334.4C735.6,337.4 738.4,340.2 740.0,342.5C741.6,344.8 747.7,354.6 749.6,357.8C751.5,361.1 757.0,371.3 759.1,375.0C761.2,378.7 768.3,391.5 770.2,395.0C772.1,398.5 776.6,407.1 778.2,410.0C779.8,412.9 784.0,420.4 786.3,424.3C788.6,428.2 799.0,444.5 801.5,449.1C804.0,453.7 809.1,466.1 811.1,470.6C813.1,475.1 819.8,489.7 821.8,494.5C823.8,499.3 829.6,513.9 831.4,518.4C833.2,522.9 837.9,535.1 839.7,539.9C841.5,544.7 847.4,561.4 849.3,566.2C851.2,571.0 856.7,582.7 858.8,587.7C860.9,592.7 868.2,611.0 870.2,615.8C872.2,620.6 877.7,632.7 879.3,636.1C880.9,639.5 884.4,646.8 886.0,649.6C887.6,652.4 893.0,662.0 895.0,664.3C897.0,666.6 904.0,670.2 906.3,672.2C908.6,674.2 915.3,682.5 917.6,684.6C919.9,686.7 926.6,691.5 928.9,693.6C931.2,695.7 937.8,703.8 940.2,706.0C942.6,708.2 950.1,714.1 952.6,715.5C955.1,716.9 962.6,718.8 965.0,719.6C967.4,720.4 974.4,722.8 976.3,723.6C978.2,724.4 983.4,727.1 984.2,727.5" stroke="#000000" stroke-width="3.6"/>
</g>
<path d="M143.30,726.7v14 M201.11,726.7v8 M201.11,20.9v7 M258.93,726.7v14 M258.93,20.9v13 M316.74,726.7v8 M316.74,20.9v7 M374.56,726.7v14 M374.56,20.9v13 M432.37,726.7v8 M432.37,20.9v7 M490.19,726.7v14 M490.19,20.9v13 M548.00,726.7v8 M548.00,20.9v7 M605.82,726.7v14 M605.82,20.9v13 M663.63,726.7v8 M663.63,20.9v7 M721.44,726.7v14 M721.44,20.9v13 M779.26,726.7v8 M779.26,20.9v7 M837.07,726.7v14 M837.07,20.9v13 M894.89,726.7v8 M894.89,20.9v7 M952.70,726.7v14 M952.70,20.9v13 M1010.52,726.7v8 M143.5,726.70h-14 M143.5,676.29h-8 M1010.8,676.29h-8 M143.5,625.87h-14 M1010.8,625.87h-14 M143.5,575.46h-8 M1010.8,575.46h-8 M143.5,525.04h-14 M1010.8,525.04h-14 M143.5,474.63h-8 M1010.8,474.63h-8 M143.5,424.21h-14 M1010.8,424.21h-14 M143.5,373.80h-8 M1010.8,373.80h-8 M143.5,323.38h-14 M1010.8,323.38h-14 M143.5,272.97h-8 M1010.8,272.97h-8 M143.5,222.56h-14 M1010.8,222.56h-14 M143.5,172.14h-8 M1010.8,172.14h-8 M143.5,121.73h-14 M1010.8,121.73h-14 M143.5,71.31h-8 M1010.8,71.31h-8 M143.5,20.90h-14" class="tk"/>
<text x="122.3" y="734.1" class="tl" text-anchor="end">0.0</text>
<text x="122.3" y="633.3" class="tl" text-anchor="end">0.1</text>
<text x="122.3" y="532.4" class="tl" text-anchor="end">0.2</text>
<text x="122.3" y="431.6" class="tl" text-anchor="end">0.3</text>
<text x="122.3" y="330.8" class="tl" text-anchor="end">0.4</text>
<text x="122.3" y="230.0" class="tl" text-anchor="end">0.5</text>
<text x="122.3" y="129.1" class="tl" text-anchor="end">0.6</text>
<text x="122.3" y="28.3" class="tl" text-anchor="end">0.7</text>
<text x="143.3" y="770" class="tl" text-anchor="middle">400</text>
<text x="258.9" y="770" class="tl" text-anchor="middle">500</text>
<text x="374.6" y="770" class="tl" text-anchor="middle">600</text>
<text x="490.2" y="770" class="tl" text-anchor="middle">700</text>
<text x="605.8" y="770" class="tl" text-anchor="middle">800</text>
<text x="721.4" y="770" class="tl" text-anchor="middle">900</text>
<text x="837.1" y="770" class="tl" text-anchor="middle">1000</text>
<text x="952.7" y="770" class="tl" text-anchor="middle">1100</text>
<text x="575.5" y="820.7" class="at" text-anchor="middle">Wavelength (nm)</text>
<text transform="translate(39.5,321.6) rotate(-90)" class="at" text-anchor="middle">Absorption and Reflection</text>
<rect x="573" y="26.7" width="423" height="134.5" fill="#fff" stroke="#000" stroke-width="1.6"/>
<line x1="596.5" y1="60.8" x2="670" y2="60.8" stroke="#000" stroke-width="3.2"/>
<line x1="597.2" y1="101" x2="663" y2="101" stroke="#000" stroke-width="4" stroke-dasharray="0 6.56" stroke-linecap="round"/>
<line x1="597.2" y1="140.7" x2="660" y2="140.7" stroke="#000" stroke-width="3.5" stroke-dasharray="4.8 8.6" stroke-linecap="round"/>
<text transform="translate(678.8,72) scale(1,1.065)" class="lf">Flat</text>
<text transform="translate(683.3,104) scale(1,1.1)" class="lg"><tspan font-style="italic">d</tspan> = 400 nm, <tspan font-style="italic">h</tspan> = 200 nm</text>
<text transform="translate(683.3,147) scale(1,1.1)" class="lg"><tspan font-style="italic">d</tspan> = 200 nm, <tspan font-style="italic">h</tspan> = 100 nm</text>
</svg>
</body></html>
